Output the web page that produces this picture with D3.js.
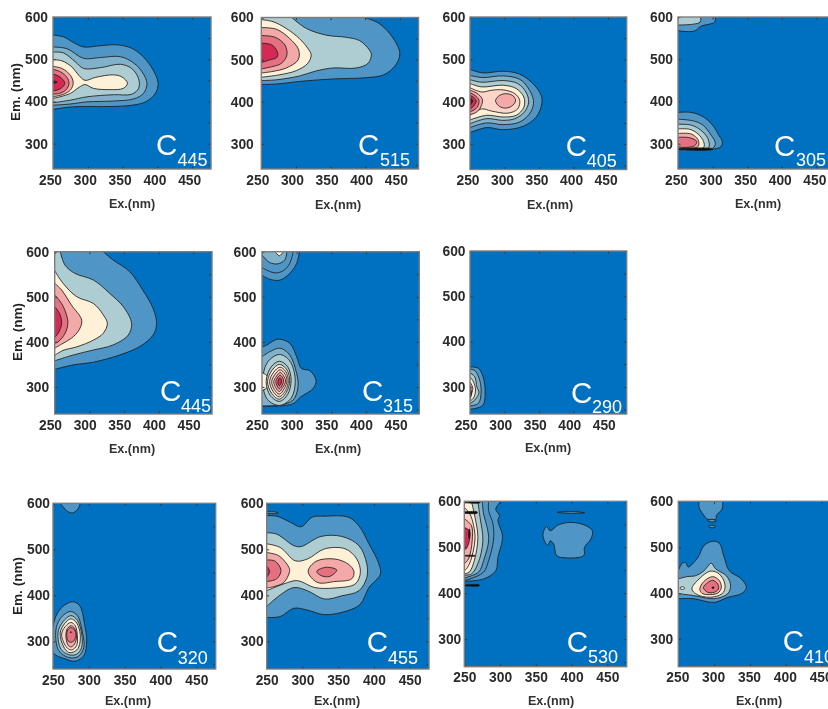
<!DOCTYPE html>
<html><head><meta charset="utf-8">
<script src="https://cdnjs.cloudflare.com/ajax/libs/d3/7.8.5/d3.min.js"></script>
<style>html,body{margin:0;padding:0;background:#fff;overflow:hidden}svg{display:block}</style>
</head><body><svg id="c" width="828" height="709"></svg>
<script>
// Contour outlines: [level, [[Ex, Em], ...]]
const panelA = [
[1,[[250,557],[265,553],[280,539],[294,529],[318,532],[342,534],[363,526],[380,505],[394,474],[401,443],[397,419],[383,399],[363,391],[332,388],[294,388],[270,386],[250,381]]],
[2,[[250,529],[270,525],[294,502],[318,504],[347,506],[366,491],[378,470],[385,443],[380,419],[366,406],[337,401],[299,399],[275,394],[250,391]]],
[3,[[250,517],[265,515],[282,494],[294,478],[318,480],[347,488],[363,478],[373,454],[373,431],[363,417],[337,416],[299,411],[275,403],[250,397]]],
[4,[[250,499],[263,496],[277,482],[287,462],[296,450],[311,457],[337,463],[349,458],[357,443],[351,431],[332,428],[308,431],[296,440],[287,433],[275,419],[250,407]]],
[6,[[250,483],[263,478],[275,462],[279,444],[275,427],[265,417],[250,411]]],
[7,[[250,476],[261,470],[270,457],[273,443],[269,428],[261,420],[250,417]]],
[8,[[250,465],[258,460],[265,450],[267,443],[263,433],[256,427],[250,425]]],
[9,[[250,449],[256,446],[250,442]]]
];
const panelB = [
[1,[[399,600],[420,586],[439,554],[450,515],[444,487],[427,464],[401,457],[353,454],[305,448],[272,442],[250,441]]],
[3,[[294,600],[315,574],[344,558],[372,553],[392,545],[406,523],[409,511],[404,491],[387,480],[353,480],[329,473],[305,461],[272,452],[250,450]]],
[4,[[250,595],[267,590],[286,574],[305,550],[317,527],[322,511],[317,491],[301,474],[277,464],[250,458]]],
[6,[[250,576],[272,572],[291,550],[304,523],[303,499],[286,480],[267,472],[250,468]]],
[7,[[250,557],[270,553],[284,535],[287,511],[279,491],[265,483],[250,478]]],
[8,[[250,539],[265,535],[273,519],[273,506],[262,499],[250,493]]]
];
const panelC = [
[1,[[250,476],[269,468],[298,472],[322,465],[341,443],[353,415],[354,395],[346,364],[327,342],[298,334],[274,339],[250,327]]],
[2,[[250,462],[269,457],[298,461],[322,453],[334,433],[342,403],[338,376],[322,352],[298,346],[274,350],[250,339]]],
[3,[[250,452],[267,446],[298,450],[319,443],[331,423],[335,399],[329,376],[315,360],[298,356],[274,360],[250,348]]],
[4,[[250,443],[267,435],[298,439],[317,431],[328,411],[328,387],[317,368],[298,364],[274,368],[250,357]]],
[5,[[250,433],[267,423],[281,427],[298,428],[315,419],[322,403],[319,383],[305,373],[281,378],[267,383],[250,368]]],
[6,[[287,403],[293,415],[303,419],[313,413],[316,402],[310,389],[300,385],[291,391]]],
[6,[[250,427],[260,420],[268,405],[264,383],[257,373],[250,370]]],
[7,[[250,421],[257,415],[263,403],[260,386],[250,376]]],
[8,[[250,415],[256,409],[259,402],[255,389],[250,383]]],
[9,[[250,409],[254,403],[250,391]]]
];
const panelD = [
[1,[[304,600],[303,588],[283,578],[274,567],[257,566],[250,568]]],
[3,[[283,600],[282,588],[272,583],[250,581]]],
[1,[[250,374],[269,374],[286,364],[300,344],[309,320],[314,305],[312,293],[300,287],[250,287]]],
[2,[[250,358],[272,354],[286,344],[298,320],[304,301],[300,289],[250,287]]],
[3,[[250,346],[269,344],[283,332],[293,313],[295,293],[291,288],[250,287]]],
[4,[[250,335],[267,334],[279,323],[287,305],[287,291],[250,287]]],
[6,[[250,324],[269,323],[279,309],[279,293],[250,287]]],
[7,[[250,315],[267,314],[277,305],[274,295],[257,291],[250,293]]],
[10,[[250,289],[300,288],[300,286],[250,286]]]
];
const panelE = [
[1,[[320,600],[334,582],[358,556],[377,515],[392,474],[397,441],[392,415],[372,389],[344,371],[306,355],[277,349],[250,339]]],
[3,[[258,600],[265,570],[279,552],[306,537],[329,508],[349,478],[361,441],[356,415],[334,393],[306,382],[277,371],[250,358]]],
[4,[[250,558],[262,530],[282,500],[306,485],[320,460],[326,441],[320,419],[306,404],[282,389],[262,381],[250,370]]],
[6,[[250,530],[260,515],[274,482],[289,448],[285,426],[274,408],[260,395],[250,386]]],
[7,[[250,504],[260,485],[267,460],[269,441],[265,419],[255,400],[250,397]]],
[8,[[250,478],[257,463],[260,441],[255,419],[250,410]]]
];
const panelF = [
[1,[[304,600],[300,574],[290,552],[276,537],[261,539],[250,548]]],
[1,[[295,600],[290,574],[281,558],[269,553],[257,559],[250,565]]],
[2,[[286,600],[283,582],[273,573],[261,576],[252,589],[250,593]]],
[4,[[281,600],[275,591],[269,600]]],
[1,[[250,388],[257,393],[273,406],[290,397],[300,367],[307,341],[319,336],[328,315],[324,297],[306,278],[295,263],[276,258],[250,258]]],
[2,[[250,367],[261,378],[276,386],[290,371],[300,330],[302,301],[295,271],[276,260],[250,258]]],
[3,[[275,372],[290,358],[298,315],[292,275],[275,259],[258,272],[251,312],[258,355]]],
[4,[[250,332],[257,325],[260,312],[257,298],[250,292]]],
[3,[[275,357],[287,345],[292,315],[287,283],[275,268],[262,281],[256,312],[263,344]]],
[4,[[275,350],[285,340],[290,315],[285,288],[275,273],[264,286],[258,312],[265,338]]],
[5,[[276,344],[284,335],[288,314],[284,292],[275,278],[266,290],[261,312],[267,333]]],
[5,[[276,338],[283,329],[286,314],[282,296],[275,284],[268,294],[264,312],[269,328]]],
[6,[[276,332],[281,325],[284,313],[280,299],[275,290],[270,298],[267,312],[271,324]]],
[7,[[276,326],[280,320],[281,312],[279,303],[275,296],[272,302],[270,312],[272,320]]],
[8,[[276,320],[278,316],[278,311],[277,306],[275,303],[273,307],[273,312],[274,318]]]
];
const panelG = [
[1,[[250,344],[262,341],[269,322],[272,289],[269,260],[257,252],[250,251]]],
[2,[[250,339],[257,336],[264,315],[266,286],[262,263],[250,258]]],
[3,[[250,331],[257,322],[260,300],[263,287],[257,271],[250,263]]],
[4,[[250,322],[255,311],[258,293],[255,275],[250,269]]],
[6,[[250,311],[254,297],[250,275]]],
[10,[[250,304],[252,286],[250,271]]]
];
const panelH = [
[1,[[288,600],[285,588],[277,579],[270,583],[260,600]]],
[1,[[277,386],[287,378],[294,338],[297,301],[293,269],[281,257],[267,262],[250,276],[250,334],[260,370]]],
[2,[[274,365],[284,356],[291,320],[293,287],[285,267],[272,265],[258,280],[254,323],[260,349]]],
[3,[[275,356],[284,346],[290,316],[290,287],[283,272],[272,271],[261,283],[257,320],[264,343]]],
[4,[[275,349],[283,340],[288,315],[286,288],[280,278],[272,276],[265,288],[260,318],[266,338]]],
[5,[[275,341],[281,334],[284,312],[283,291],[277,282],[272,283],[266,294],[262,316],[267,332]]],
[6,[[275,334],[280,329],[283,312],[280,294],[275,288],[271,292],[268,312],[270,328]]],
[7,[[275,330],[280,325],[282,312],[279,301],[275,298],[271,301],[269,316],[271,326]]],
[9,[[275,321],[276,320],[275,319],[274,320]]]
];
const panelI = [
[1,[[250,573],[264,572],[283,559],[298,549],[314,570],[331,572],[364,570],[379,551],[393,512],[407,468],[409,446],[393,417],[381,381],[364,367],[331,358],[307,368],[288,372],[269,354],[250,352]]],
[2,[[250,582],[262,581],[266,579],[262,578],[250,579]]],
[3,[[250,536],[264,533],[288,508],[298,506],[326,528],[355,528],[379,508],[390,468],[390,439],[379,410],[355,399],[331,392],[307,410],[288,417],[269,401],[250,376]]],
[4,[[250,512],[269,504],[290,475],[307,479],[331,501],[360,501],[376,479],[381,450],[374,425],[345,416],[317,417],[293,432],[274,425],[250,410]]],
[6,[[250,493],[267,486],[281,461],[282,452],[274,428],[260,419],[250,416]]],
[7,[[250,477],[262,474],[270,454],[264,436],[250,430]]],
[8,[[250,464],[254,452],[250,439]]],
[6,[[308,452],[319,474],[345,479],[364,468],[372,452],[369,436],[345,430],[321,428]]],
[7,[[320,452],[333,461],[348,455],[338,441],[326,443]]]
];
const panelJ = [
[1,[[301,600],[294,583],[299,569],[297,558],[303,529],[303,514],[297,478],[294,449],[277,431],[250,426]]],
[1,[[284,600],[284,580],[290,551],[291,518],[284,471],[277,446],[258,431],[250,428]]],
[2,[[275,600],[277,572],[282,543],[284,514],[277,471],[270,446],[250,433]]],
[3,[[269,600],[272,565],[276,514],[269,464],[260,442],[250,439]]],
[4,[[260,600],[265,565],[269,522],[264,471],[257,446],[250,442]]],
[5,[[250,587],[258,572],[263,547],[265,518],[259,471],[253,453],[250,449]]],
[6,[[250,562],[260,547],[261,514],[256,475],[250,464]]],
[8,[[250,543],[257,536],[257,514],[254,500],[250,493]]],
[10,[[257,540],[258,529],[257,518],[256,529]]],
[10,[[250,600],[272,600],[272,597],[250,597]]],
[10,[[250,577],[268,577],[268,574],[250,574]]],
[10,[[250,482],[265,482],[265,481],[250,481]]],
[10,[[250,418],[271,418],[271,416],[250,416]]],
[1,[[380,576],[398,578],[418,575],[398,574]]],
[1,[[365,545],[370,536],[382,549],[401,554],[420,547],[429,536],[427,518],[418,500],[417,482],[391,477],[379,482],[375,507],[370,514],[367,504],[362,514],[360,529]]]
];
const panelK = [
[1,[[312,600],[311,583],[303,569],[303,562],[291,561],[286,569],[279,587],[279,600]]],
[1,[[291,558],[297,561],[303,557],[297,555]]],
[1,[[292,546],[297,548],[302,545],[297,542]]],
[1,[[250,449],[255,464],[260,467],[264,457],[274,471],[279,482],[286,504],[298,513],[307,509],[314,478],[321,449],[338,431],[345,412],[338,399],[319,391],[300,380],[271,388],[250,388]]],
[3,[[250,431],[262,436],[274,438],[286,449],[296,465],[302,453],[317,438],[323,417],[319,399],[300,388],[271,395],[250,399]]],
[4,[[252,411],[256,414],[259,411],[256,408]]],
[4,[[269,409],[279,431],[295,448],[307,442],[315,420],[313,402],[300,392],[279,395]]],
[6,[[280,409],[286,426],[298,436],[307,428],[310,412],[305,400],[290,397],[283,400]]],
[7,[[285,412],[291,423],[298,428],[305,420],[306,409],[300,402],[291,402]]],
[10,[[297,412],[299,414],[300,412],[298,410]]]
];
const subscripts = ["445","515","405","305","445","315","290","320","455","530","410"];
const allRings = [panelA,panelB,panelC,panelD,panelE,panelF,panelG,panelH,panelI,panelJ,panelK];
const exTicks = [250,300,350,400,450];
const emTicks = [300,400,500,600];
const emSideTicks = [250,300,350,400,450,500,550,600];
const exDomain = [250,477];
const emDomain = [240,600];
const levelColors = ["#0070c0","#4f96c6","#7fb1cb","#aecdd3","#fff0d8","#fbd5c8","#f3a9a8","#e5707f","#d42a52","#5a0a20","#0d0d0d"];

// Layout: box [left,right,top,bottom], tick-label offsets, title, C label
const layout = [
{b:[53,211,17,169],dx:-3,py:5,tx:132,ty:208,cx:156,cy:155,sx:177.5,sy:165.5,yl:1,ylx:20,yly:92},
{b:[261.3,418.5,17.5,169],dx:-4,py:7.5,tx:338,ty:209,cx:358,cy:155,sx:380,sy:166},
{b:[470,626.7,17,169.5],dx:-2.5,py:4.5,tx:550,ty:209,cx:565.7,cy:156,sx:586.7,sy:166.5},
{b:[678,835,17,169],dx:-2,py:5,tx:758,ty:208,cx:774,cy:156,sx:796,sy:166},
{b:[54.7,212,251.7,414],dx:-4.7,py:5.5,tx:132,ty:453,cx:160,cy:401,sx:181,sy:412,yl:1,ylx:22,yly:332},
{b:[262,419.3,251.7,414],dx:-5,py:5.5,tx:338,ty:453,cx:362,cy:401,sx:383,sy:412},
{b:[470,626.7,251,414],dx:-4.3,py:4.5,tx:548,ty:452,cx:571,cy:403,sx:592,sy:413},
{b:[53,215.7,503.3,669],dx:0,py:3,tx:128,ty:705,cx:156.7,cy:652,sx:177.7,sy:664,yl:1,ylx:22,yly:586},
{b:[266.7,429,503.3,669],dx:0,py:3,tx:337,ty:705,cx:366.7,cy:652,sx:388,sy:664},
{b:[464.3,626.7,501.3,666.7],dx:0,py:3,tx:551,ty:705,cx:566.7,cy:652,sx:588,sy:663},
{b:[678.3,841,501.3,666.7],dx:-1,py:5,tx:759,ty:705,cx:782.7,cy:651,sx:804,sy:663}
];

const svg = d3.select("#c");
const defs = svg.append("defs");
defs.append("filter").attr("id","soft").attr("x","-2%").attr("y","-2%").attr("width","104%").attr("height","104%")
  .append("feGaussianBlur").attr("stdDeviation",0.55);
const root = svg.append("g").attr("filter","url(#soft)");
const FONT = "'Liberation Sans',Arial,sans-serif";

layout.forEach((p,i)=>{
  const [l,r,t,bt]=p.b;
  const x=d3.scaleLinear().domain(exDomain).range([l,r]);
  const y=d3.scaleLinear().domain(emDomain).range([bt,t]);
  const cid="clip"+i;
  defs.append("clipPath").attr("id",cid).append("rect").attr("x",l).attr("y",t).attr("width",r-l).attr("height",bt-t);
  const g=root.append("g");
  const pg=g.append("g").attr("clip-path",`url(#${cid})`);
  pg.append("rect").attr("x",l).attr("y",t).attr("width",r-l).attr("height",bt-t).attr("fill",levelColors[0]);
  const openLine=d3.line().x(d=>x(d[0])).y(d=>y(d[1])).curve(d3.curveCatmullRom.alpha(0.5));
  const closedLine=d3.line().x(d=>x(d[0])).y(d=>y(d[1])).curve(d3.curveCatmullRomClosed.alpha(0.5));
  allRings[i].forEach(([lv,pts])=>{
    const a=pts[0],z=pts[pts.length-1];
    const open=a[0]<=250||a[1]>=600;
    const col=levelColors[lv];
    if(open){
      const corner=(a[1]>=600&&z[0]<=250)||(a[0]<=250&&z[1]>=600);
      const d=openLine(pts);
      pg.append("path").attr("d",d+(corner?`L${x(250)},${y(600)}`:"")+"Z").attr("fill",col);
      pg.append("path").attr("d",d).attr("fill","none").attr("stroke","#1f1f1f").attr("stroke-width",1).attr("stroke-opacity",.85);
    } else {
      pg.append("path").attr("d",closedLine(pts)).attr("fill",col).attr("stroke","#1f1f1f").attr("stroke-width",1).attr("stroke-opacity",.85);
    }
  });
  // axes
  const ax=g.append("g").attr("transform",`translate(0,${bt})`).call(d3.axisBottom(x).tickValues(exTicks).tickSize(-2.5).tickSizeOuter(0).tickPadding(6));
  const ay=g.append("g").attr("transform",`translate(${l},0)`).call(d3.axisLeft(y).tickValues(emTicks).tickSize(-2.5).tickSizeOuter(0).tickPadding(p.py));
  g.append("g").attr("transform",`translate(0,${t})`).call(d3.axisTop(x).tickValues(exTicks).tickSize(-2.5).tickSizeOuter(0).tickFormat(""));
  g.append("g").attr("transform",`translate(${r},0)`).call(d3.axisRight(y).tickValues(emSideTicks).tickSize(-2.5).tickSizeOuter(0).tickFormat(""));
  g.selectAll(".domain").remove();
  g.selectAll(".tick line").attr("stroke","#333").attr("stroke-width",1);
  ax.selectAll("text").attr("dx",p.dx);
  [ax,ay].forEach(s=>s.selectAll("text").attr("fill","#2b2b2b").style("font",`bold 13.8px ${FONT}`));
  g.append("rect").attr("x",l).attr("y",t).attr("width",r-l).attr("height",bt-t).attr("fill","none").attr("stroke","#7d7d7d").attr("stroke-width",1.4);
  // titles
  g.append("text").attr("x",p.tx).attr("y",p.ty).attr("text-anchor","middle").attr("fill","#333")
    .style("font",`bold 12.6px ${FONT}`).text("Ex.(nm)");
  if(p.yl) g.append("text").attr("transform",`translate(${p.ylx},${p.yly}) rotate(-90)`).attr("text-anchor","middle").attr("fill","#222")
    .style("font",`bold 13.6px ${FONT}`).text("Em. (nm)");
  g.append("text").attr("x",p.cx).attr("y",p.cy).attr("fill","#fff").style("font",`29.5px ${FONT}`).text("C");
  g.append("text").attr("x",p.sx).attr("y",p.sy).attr("fill","#fff").style("font",`18px ${FONT}`).text(subscripts[i]);
});
</script></body></html>
